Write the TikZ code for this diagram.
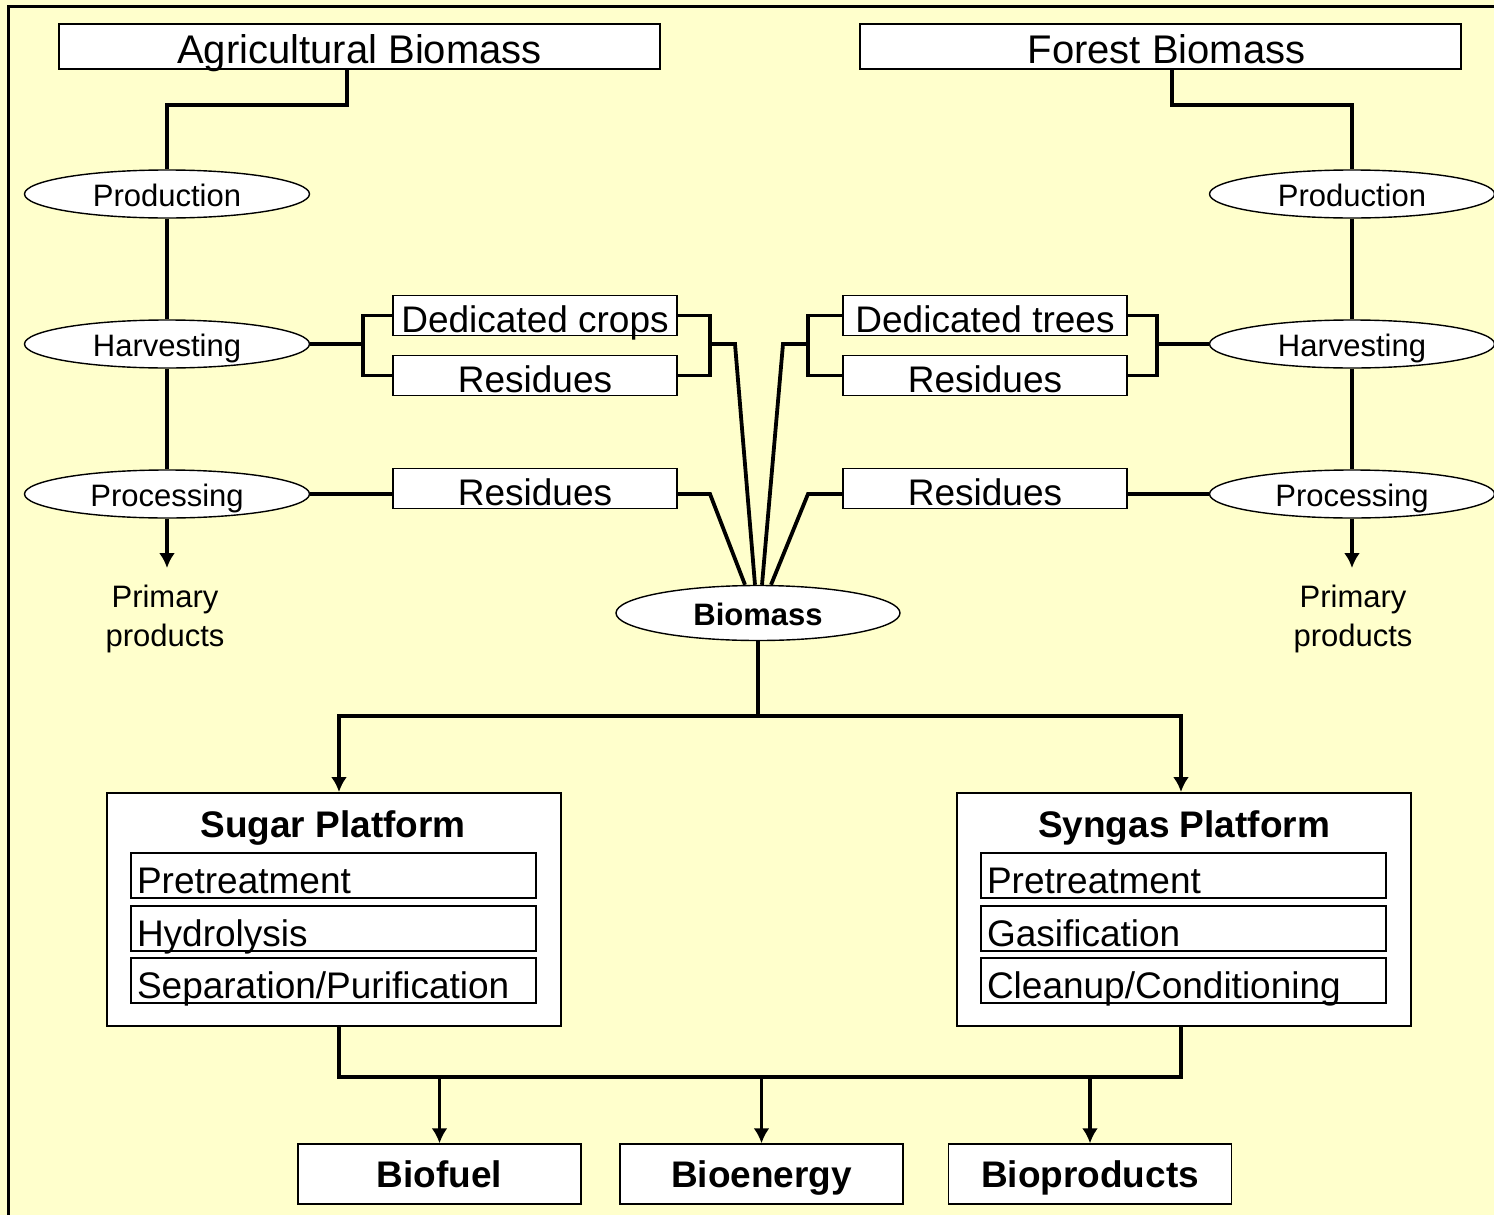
\documentclass[tikz,border=0pt]{standalone}
\usepackage{fontspec}
\setmainfont{Liberation Sans}
\usetikzlibrary{shapes.geometric,arrows.meta}
\definecolor{bgyellow}{HTML}{FFFFCC}
\newcommand\fsHead{\fontsize{20}{24}\selectfont}
\newcommand\fsBox{\fontsize{18.5}{22}\selectfont}
\newcommand\fsEll{\fontsize{15.5}{19.5}\selectfont}
\tikzset{
  conn/.style={line width=1.9pt, line join=miter},
  arr/.style={conn, -{Latex[length=7.5pt,width=8pt]}},
  box/.style={draw, fill=white, line width=0.7pt, inner sep=0pt},
  hbox/.style={box, minimum width=300.5pt, text height=19.5pt, text depth=3pt, font=\fsHead},
  sbox/.style={box, minimum width=142pt, text height=18.5pt, text depth=1.75pt, font=\fsBox},
  ell/.style={ellipse, draw, fill=white, line width=0.7pt, inner sep=0pt,
              minimum width=142.5pt, minimum height=24pt, text height=12pt, text depth=0pt, font=\fsEll},
  plat/.style={draw, fill=white, line width=1pt, minimum width=227pt, minimum height=116.5pt, inner sep=0pt},
  ttl/.style={font=\fsBox\bfseries, inner sep=0pt},
  subbox/.style={box, minimum width=202.5pt, text width=196.5pt, inner xsep=3pt, align=left,
                 text height=20pt, text depth=2.5pt, font=\fsBox},
  prodbox/.style={box, minimum width=141.5pt, minimum height=30pt, text height=13pt, text depth=0pt, font=\fsBox\bfseries},
  plain/.style={font=\fsEll, align=center, inner sep=0pt}
}
\begin{document}
\begin{tikzpicture}[x=0.5pt,y=-0.5pt]
\fill[bgyellow] (0,0) rectangle (1494,1215);
\useasboundingbox (0,0) rectangle (1494,1215);
\draw[line width=1.5pt] (8,1215) -- (8,6) -- (1494,6);

% top boxes
\node[hbox] (agri) at (359.5,46.5) {Agricultural Biomass};
\node[hbox] (forest) at (1160.5,46.5) {\hspace*{6pt}Forest Biomass};

% ellipses
\node[ell] (prodL) at (167,194) {Production};
\node[ell] (harvL) at (167,344) {Harvesting};
\node[ell] (procL) at (167,494) {Processing};
\node[ell] (prodR) at (1352,194) {Production};
\node[ell] (harvR) at (1352,344) {Harvesting};
\node[ell] (procR) at (1352,494) {Processing};

% small boxes
\node[sbox] (dcrop) at (535,315.5) {Dedicated crops};
\node[sbox] (resL1) at (535,375.5) {Residues};
\node[sbox] (resL2) at (535,488.5) {Residues};
\node[sbox] (dtree) at (985,315.5) {Dedicated trees};
\node[sbox] (resR1) at (985,375.5) {Residues};
\node[sbox] (resR2) at (985,488.5) {Residues};

% biomass
\node[ell, minimum width=142pt, minimum height=27.5pt, font=\fsEll\bfseries] (bio) at (758,613) {Biomass};

% primary products
\node[plain] (ppL) at (165,619) {Primary\\products};
\node[plain] (ppR) at (1353,619) {Primary\\products};
\coordinate (tipL) at (167,568);
\coordinate (tipR) at (1352,568);

% bracket coordinates
\coordinate (bLl) at (363,344);
\coordinate (bLr) at (710,344);
\coordinate (kLr) at (735,344);
\coordinate (kL2) at (710,494);
\coordinate (bRl) at (808,344);
\coordinate (kRl) at (783,344);
\coordinate (bRr) at (1157,344);
\coordinate (kR2) at (808,494);

% connectors top
\draw[conn] ([xshift=-6.25pt]agri.south) -- ++(0,35) -| (prodL.north);
\draw[conn] ([xshift=5.75pt]forest.south) -- ++(0,35) -| (prodR.north);
\draw[conn] (prodL.south) -- (harvL.north);
\draw[conn] (harvL.south) -- (procL.north);
\draw[arr] (procL.south) -- (tipL);
\draw[conn] (prodR.south) -- (harvR.north);
\draw[conn] (harvR.south) -- (procR.north);
\draw[arr] (procR.south) -- (tipR);

% left brackets
\draw[conn] (harvL.east) -- (bLl);
\draw[conn] (dcrop.west) -| (bLl) |- (resL1.west);
\draw[conn] (dcrop.east) -| (bLr) |- (resL1.east);
\draw[conn] (bLr) -- (kLr) -- ([xshift=-1.5pt]bio.north);
\draw[conn] (procL.east) -- (procL.east -| resL2.west);
\draw[conn] (procL.east -| resL2.east) -- (kL2) -- ([xshift=-6.5pt]bio.north);

% right brackets
\draw[conn] (harvR.west) -- (bRr);
\draw[conn] (dtree.east) -| (bRr) |- (resR1.east);
\draw[conn] (dtree.west) -| (bRl) |- (resR1.west);
\draw[conn] (bRl) -- (kRl) -- ([xshift=2pt]bio.north);
\draw[conn] (procR.west) -- (procR.west -| resR2.east);
\draw[conn] (procR.west -| resR2.west) -- (kR2) -- ([xshift=6.5pt]bio.north);

% platforms
\node[plat] (sugar) at (334,909.5) {};
\node[ttl, anchor=base] (sugT) at (333,837) {Sugar Platform};
\node[subbox] (sugA) at (333.5,875.5) {Pretreatment};
\node[subbox] (sugB) at (333.5,928.5) {Hydrolysis};
\node[subbox] (sugC) at (333.5,980.5) {Separation/Purification};

\node[plat] (syngas) at (1184,909.5) {};
\node[ttl, anchor=base] (synT) at (1184,837) {Syngas Platform};
\node[subbox] (synA) at (1183.5,875.5) {Pretreatment};
\node[subbox] (synB) at (1183.5,928.5) {Gasification};
\node[subbox] (synC) at (1183.5,980.5) {Cleanup/Conditioning};

% biomass to platforms
\coordinate (jT) at (758,716);
\draw[conn] (bio.south) -- (jT);
\draw[arr] (jT) -| ([xshift=2.5pt]sugar.north);
\draw[arr] (jT) -| ([xshift=-1.5pt]syngas.north);

% outputs
\node[prodbox] (bf) at (439.5,1174) {Biofuel};
\node[prodbox] (be) at (761.5,1174) {Bioenergy};
\node[prodbox] (bp) at (1090,1174) {Bioproducts};
\coordinate (jB) at (760,1077);
\draw[conn] ([xshift=2.5pt]sugar.south) |- (jB) -| ([xshift=-1.5pt]syngas.south);
\draw[arr] (bf.north |- jB) -- (bf.north);
\draw[arr] (be.north |- jB) -- (be.north);
\draw[arr] (bp.north |- jB) -- (bp.north);
\end{tikzpicture}
\end{document}
